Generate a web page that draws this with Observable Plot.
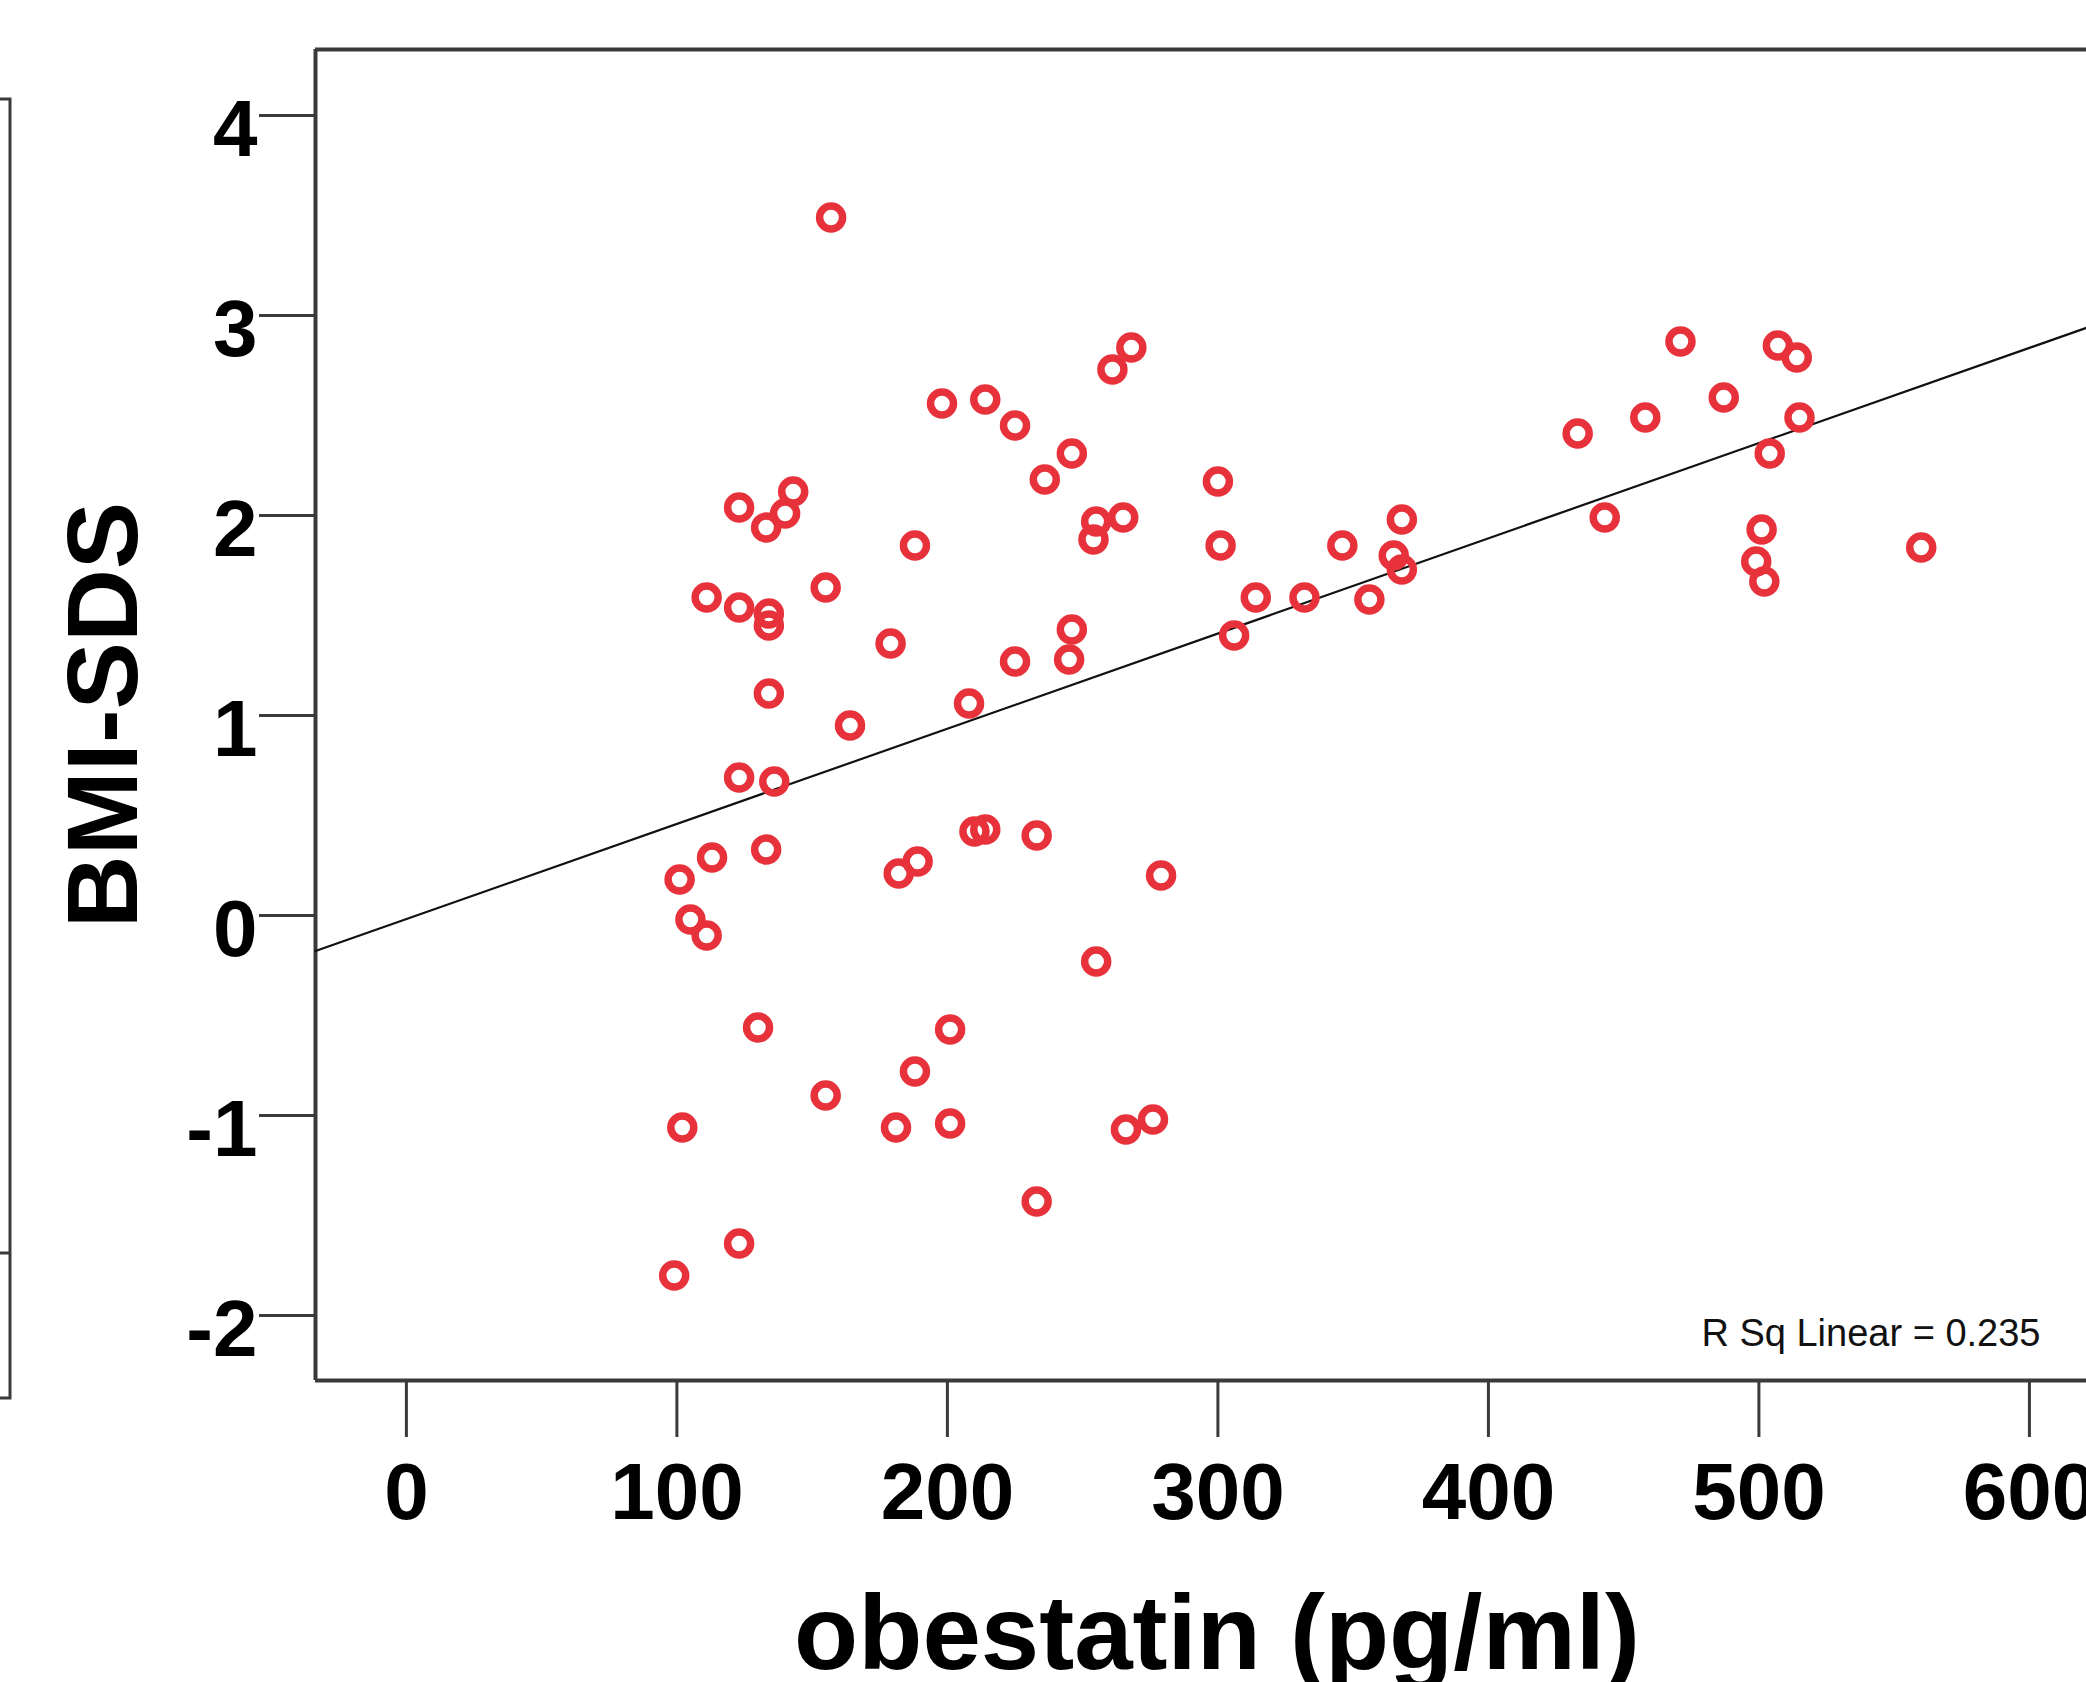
<!DOCTYPE html>
<html>
<head>
<meta charset="utf-8">
<script src="https://cdn.jsdelivr.net/npm/d3@7"></script>
<script src="https://cdn.jsdelivr.net/npm/@observablehq/plot@0.6"></script>
<style>
  html, body { margin: 0; padding: 0; background: #fff; overflow: hidden; }
  #chart { position: relative; width: 2086px; height: 1682px; }
  svg { font-family: "Liberation Sans", Arial, sans-serif; }
</style>
</head>
<body>
<div id="chart"></div>
<script>
// Data
const obestatin = [157,198,214,225,261,268,246,236,143,123,140,133,188,255,254,265,300,301,111,123,
  134,134,155,179,225,246,245,134,208,164,123,136,133,113,101,105,111,182,189,210,
  214,233,279,255,130,201,188,155,102,181,201,266,276,233,123,99,314,332,306,346,
  356,368,365,368,433,458,471,487,443,507,514,515,504,501,499,502,560];
const bmiSds = [3.49,2.56,2.58,2.45,2.73,2.84,2.31,2.18,2.12,2.04,2.01,1.94,1.85,1.97,1.88,1.99,2.17,1.85,1.59,1.54,
  1.51,1.45,1.64,1.36,1.27,1.43,1.28,1.11,1.06,0.95,0.69,0.67,0.33,0.29,0.18,-0.02,-0.10,0.21,0.27,0.42,
  0.43,0.40,0.20,-0.23,-0.56,-0.57,-0.78,-0.90,-1.06,-1.06,-1.04,-1.07,-1.02,-1.43,-1.64,-1.80,1.59,1.59,1.40,1.85,
  1.58,1.98,1.80,1.73,2.41,2.49,2.87,2.59,1.99,2.85,2.79,2.49,2.31,1.93,1.77,1.67,1.84];
const xTicks = [0, 100, 200, 300, 400, 500, 600];
const yTicks = [-2, -1, 0, 1, 2, 3, 4];
const fitIntercept = -0.018;
const fitSlope = 0.00476;
const rSqLabel = "R Sq Linear = 0.235";
const xLabel = "obestatin (pg/ml)";
const yLabel = "BMI-SDS";

const xDomain = [-33.6, 621.1];
const yDomain = [-2.325, 4.33];

const points = obestatin.map((x, i) => ({x, y: bmiSds[i]}));
const fitLine = xDomain.map(x => ({x, y: fitIntercept + fitSlope * x}));

const font = "Liberation Sans, Arial, sans-serif";
const red = "#e8323b";
const axisColor = "#3a3a3a";
const noText = () => "";

const plot = Plot.plot({
  width: 2086,
  height: 1682,
  marginLeft: 315,
  marginRight: 0,
  marginTop: 49,
  marginBottom: 302,
  style: {fontFamily: font, background: "#fff", color: "#000"},
  x: {domain: xDomain, axis: null},
  y: {domain: yDomain, axis: null},
  marks: [
    // frame (left, top, bottom)
    Plot.ruleX([xDomain[0]], {stroke: axisColor, strokeWidth: 4}),
    Plot.ruleY(yDomain, {stroke: axisColor, strokeWidth: 4}),
    // y axis ticks and labels
    Plot.axisY({ticks: yTicks, tickSize: 56, tickFormat: noText, label: null, stroke: axisColor, strokeWidth: 3}),
    Plot.axisY({ticks: yTicks, tickSize: 0, tickPadding: 58, dy: 15, tickFormat: d => String(d),
      fontSize: 80, fontWeight: "bold", fill: "#000", label: null}),
    // x axis ticks and labels
    Plot.axisX({ticks: xTicks, tickSize: 57, tickFormat: noText, label: null, stroke: axisColor, strokeWidth: 3}),
    Plot.axisX({ticks: xTicks, tickSize: 0, tickPadding: 82, tickFormat: d => String(d),
      fontSize: 80, fontWeight: "bold", fill: "#000", label: null}),
    // axis titles
    Plot.text([xLabel], {frameAnchor: "bottom", dx: 16, dy: 288, lineAnchor: "bottom", textAnchor: "middle",
      fontSize: 105, fontWeight: "bold", fill: "#000"}),
    Plot.text([yLabel], {frameAnchor: "left", dx: -179, rotate: -90, lineAnchor: "bottom", textAnchor: "middle",
      fontSize: 101, fontWeight: "bold", fill: "#000"}),
    // regression line
    Plot.line(fitLine, {x: "x", y: "y", stroke: "#111", strokeWidth: 2.2}),
    // points
    Plot.dot(points, {x: "x", y: "y", r: 11.5, stroke: red, strokeWidth: 7.5, fill: "none"}),
    // R squared annotation
    Plot.text([rSqLabel], {frameAnchor: "bottom-right", dx: -46, dy: -35, lineAnchor: "bottom",
      textAnchor: "end", fontSize: 38, fill: "#111"})
  ]
});

document.getElementById("chart").appendChild(plot);

// fragment of the neighbouring panel's frame at the left edge
d3.select(plot).append("path")
  .attr("d", "M0,99H10V1398H0M0,1253H10")
  .attr("fill", "none")
  .attr("stroke", axisColor)
  .attr("stroke-width", 3);
</script>
</body>
</html>
